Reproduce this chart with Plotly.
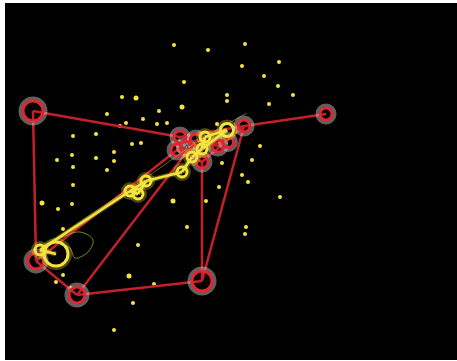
import plotly.graph_objects as go

# red network nodes (x, y in picture units, y grows downward)
red_x = [33, 326, 202, 77, 36, 244, 180, 177, 196, 218, 228, 202, 186]
red_y = [111, 114, 281, 295, 261, 126, 137, 150, 140, 146, 142, 162, 147]
red_size = [20, 12, 20, 16, 16, 12, 12, 12, 12, 12, 11, 12, 11]

# red edges as pairs of node indices
red_edges = [(0, 4), (0, 6), (4, 3), (3, 2), (3, 8), (4, 7), (2, 5), (2, 11),
             (5, 1), (6, 5), (5, 11), (9, 10), (6, 7), (8, 9), (7, 11), (12, 10)]

# yellow path nodes
yel_x = [40, 56, 130, 138, 146, 182, 192, 202, 205, 227]
yel_y = [250, 254, 191, 194, 181, 172, 157, 149, 137, 130]
yel_size = [10, 24, 10, 10, 10, 10, 10, 10, 10, 13]
yel_edges = [(0, 1), (0, 2), (2, 3), (2, 4), (3, 4), (4, 5), (5, 6), (6, 7),
             (7, 8), (8, 9), (7, 9)]

# faint wispy traces
wisp1_x = [42, 90, 150, 200, 247]
wisp1_y = [248, 215, 175, 140, 113]
wisp2_x = [45, 60, 80, 93, 88, 75, 70, 60]
wisp2_y = [245, 238, 232, 240, 252, 258, 248, 244]

# scattered yellow dots
dot_x = [174, 208, 245, 279, 242, 264, 278, 293, 184, 122, 136, 182, 227, 227,
         269, 107, 159, 143, 167, 157, 126, 120, 73, 96, 132, 141, 260, 72,
         57, 114, 96, 114, 73, 252, 222, 107, 242, 248, 219, 73, 280, 42, 72,
         58, 173, 206, 63, 187, 246, 245, 138, 63, 129, 154, 56, 71, 133, 114,
         217]
dot_y = [45, 50, 44, 62, 66, 76, 86, 95, 82, 97, 98, 107, 95, 101, 104, 114,
         111, 119, 123, 124, 123, 126, 136, 134, 144, 143, 146, 155, 160, 152,
         158, 161, 167, 160, 163, 170, 175, 182, 187, 185, 197, 203, 204, 209,
         201, 201, 229, 227, 227, 234, 245, 275, 276, 284, 282, 288, 303, 330,
         124]
dot_size = [4, 4, 4, 4, 4, 4, 4, 4, 4, 4, 5, 5, 4, 4, 4, 4, 4, 4, 4, 4, 4, 4,
            4, 4, 4, 4, 4, 4, 4, 4, 4, 4, 4, 4, 4, 4, 4, 4, 4, 4, 4, 5, 4, 4,
            5, 4, 4, 4, 4, 4, 4, 4, 5, 4, 4, 4, 4, 4, 4]

RED = "#e0262e"
RED_EDGE = "#c4202a"
YEL = "#f5e43c"


def edge_xy(xs, ys, edges):
    ex, ey = [], []
    for a, b in edges:
        ex += [xs[a], xs[b], None]
        ey += [ys[a], ys[b], None]
    return ex, ey


fig = go.Figure()

# dots
fig.add_trace(go.Scatter(x=dot_x, y=dot_y, mode="markers",
                         marker=dict(size=dot_size, color=YEL, opacity=1, line=dict(width=0))))

# red network
rx, ry = edge_xy(red_x, red_y, red_edges)
fig.add_trace(go.Scatter(x=rx, y=ry, mode="lines", line=dict(color=RED_EDGE, width=2.5)))
fig.add_trace(go.Scatter(x=red_x, y=red_y, mode="markers",
                         marker=dict(symbol="circle-open", size=[s + 4 for s in red_size], opacity=1,
                                     color="rgba(210,210,210,0.45)", line=dict(width=5))))
fig.add_trace(go.Scatter(x=red_x, y=red_y, mode="markers",
                         marker=dict(symbol="circle-open", size=red_size, opacity=1,
                                     color=RED, line=dict(width=3))))

# wisps
fig.add_trace(go.Scatter(x=wisp1_x, y=wisp1_y, mode="lines",
                         line=dict(color="rgba(200,200,60,0.5)", width=1, shape="spline")))
fig.add_trace(go.Scatter(x=wisp2_x, y=wisp2_y, mode="lines",
                         line=dict(color="rgba(220,210,60,0.6)", width=1, shape="spline")))

# yellow path
yx, yy = edge_xy(yel_x, yel_y, yel_edges)
fig.add_trace(go.Scatter(x=yx, y=yy, mode="lines", line=dict(color="rgba(245,228,60,0.3)", width=5)))
fig.add_trace(go.Scatter(x=yx, y=yy, mode="lines", line=dict(color=YEL, width=2.6)))
fig.add_trace(go.Scatter(x=yel_x, y=yel_y, mode="markers",
                         marker=dict(symbol="circle-open", size=[s + 3 for s in yel_size], opacity=1,
                                     color="rgba(245,228,60,0.3)", line=dict(width=5))))
fig.add_trace(go.Scatter(x=yel_x, y=yel_y, mode="markers",
                         marker=dict(symbol="circle-open", size=yel_size, opacity=1,
                                     color=YEL, line=dict(width=3))))

fig.update_xaxes(visible=False, range=[5, 457])
fig.update_yaxes(visible=False, range=[360, 3])
fig.update_layout(
    width=457, height=361,
    margin=dict(l=5, r=0, t=3, b=1),
    paper_bgcolor="white", plot_bgcolor="black",
    showlegend=False,
)

fig.write_html("out.html", config={"displayModeBar": False},
               post_script="document.body.style.margin='0';")
